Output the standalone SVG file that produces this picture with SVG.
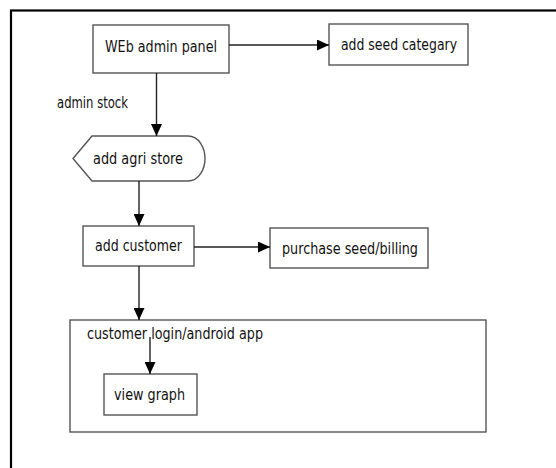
<svg xmlns="http://www.w3.org/2000/svg" width="556" height="468" viewBox="0 0 556 468">
  <defs>
    <marker id="arrow" markerUnits="userSpaceOnUse" markerWidth="12" markerHeight="11" refX="12" refY="5.5" orient="auto">
      <path d="M0,0 L12,5.5 L0,11 Z" fill="#000"/>
    </marker>
    <style>
      .box { fill: #fff; stroke: #555; stroke-width: 1.4; }
      .conn { fill: none; stroke: #222; stroke-width: 1.4; marker-end: url(#arrow); }
      .t { font-family: "DejaVu Sans Condensed", "DejaVu Sans", sans-serif; font-stretch: condensed; font-size: 15px; fill: #111; dominant-baseline: central; }
      .frame { fill: none; stroke: #000; stroke-width: 2.2; }
    </style>
  </defs>
  <rect width="556" height="468" fill="#fff"/>
  <rect class="frame" x="11" y="10.5" width="570" height="480"/>

  <g id="container">
    <rect class="box" x="70" y="320" width="416" height="112"/>
    <text class="t" x="87" y="334" textLength="176" lengthAdjust="spacingAndGlyphs">customer login/android app</text>
  </g>
  <g id="web-admin-panel">
    <rect class="box" x="93" y="25" width="136" height="48"/>
    <text class="t" x="105" y="47" textLength="112" lengthAdjust="spacingAndGlyphs">WEb admin panel</text>
  </g>
  <g id="add-seed-category">
    <rect class="box" x="329" y="24" width="139" height="41"/>
    <text class="t" x="341" y="45" textLength="116" lengthAdjust="spacingAndGlyphs">add seed categary</text>
  </g>
  <g id="add-agri-store">
    <path class="box" d="M73,158.5 L92,136 L188,136 C199,136 205,148 205,158.5 C205,169 199,181 188,181 L92,181 Z"/>
    <text class="t" x="93" y="159" textLength="90" lengthAdjust="spacingAndGlyphs">add agri store</text>
  </g>
  <g id="add-customer">
    <rect class="box" x="83" y="226" width="111" height="40"/>
    <text class="t" x="95" y="246" textLength="87" lengthAdjust="spacingAndGlyphs">add customer</text>
  </g>
  <g id="purchase">
    <rect class="box" x="270" y="228" width="158" height="40"/>
    <text class="t" x="282" y="249" textLength="136" lengthAdjust="spacingAndGlyphs">purchase seed/billing</text>
  </g>
  <g id="view-graph">
    <rect class="box" x="104" y="374" width="93" height="41"/>
    <text class="t" x="114" y="395" textLength="71" lengthAdjust="spacingAndGlyphs">view graph</text>
  </g>
  <text class="t" x="57" y="103" textLength="71" lengthAdjust="spacingAndGlyphs">admin stock</text>

  <g id="connectors">
    <line class="conn" x1="229" y1="45" x2="329" y2="45"/>
    <line class="conn" x1="156.5" y1="73" x2="156.5" y2="136"/>
    <line class="conn" x1="139" y1="181" x2="139" y2="226"/>
    <line class="conn" x1="194" y1="247" x2="270" y2="247"/>
    <line class="conn" x1="139" y1="266" x2="139" y2="320"/>
    <line class="conn" x1="150" y1="337" x2="150" y2="374"/>
  </g>
</svg>
